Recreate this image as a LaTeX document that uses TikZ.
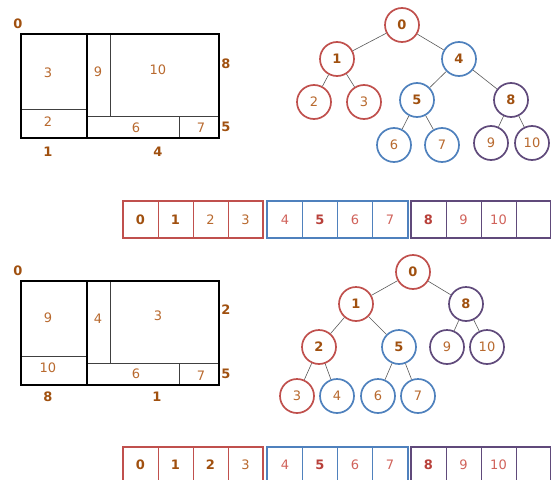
\documentclass[tikz,border=0pt]{standalone}
\usepackage{fontspec}
\setmainfont{DejaVu Sans}
\usepackage{tikz}
\usetikzlibrary{positioning}

\definecolor{hred}{HTML}{C0504D}
\definecolor{hblue}{HTML}{4F81BD}
\definecolor{hpurple}{HTML}{604A7B}
\definecolor{txtbrown}{HTML}{B8692E}
\definecolor{txtdark}{HTML}{A0500F}
\definecolor{txtred}{HTML}{D0625A}
\definecolor{txtdred}{HTML}{B8403A}

\tikzset{
  num/.style={text=txtbrown, font=\fontsize{13}{15}\selectfont},
  bnum/.style={text=txtdark, font=\fontsize{13}{15}\selectfont\bfseries},
  rnum/.style={text=txtred, font=\fontsize{13}{15}\selectfont},
  brnum/.style={text=txtdred, font=\fontsize{13}{15}\selectfont\bfseries},
  vert/.style={circle, draw=#1, line width=1.7pt, minimum size=34pt, inner sep=0pt, fill=white},
  cell/.style={draw=#1, line width=0.8pt, minimum width=35pt, minimum height=36pt, inner sep=0pt},
  link/.style={draw=black!65, line width=0.6pt},
}

\begin{document}
\begin{tikzpicture}[x=1pt, y=-1pt]
\useasboundingbox (0,0) rectangle (551,479);

% the two split planes
\foreach \dy in {0,247} {
  \begin{scope}[shift={(0,\dy)}]
    \draw[black!75, line width=0.8pt] (21,109) -- (87,109);
    \draw[black!75, line width=0.8pt] (110,34) -- (110,116);
    \draw[black!75, line width=0.8pt] (87,116) -- (219,116);
    \draw[black!75, line width=0.8pt] (179,116) -- (179,138);
    \draw[line width=1.8pt] (21,34) rectangle (219,138);
    \draw[line width=1.8pt] (87,34) -- (87,138);
  \end{scope}
}

% labels, top plan
\node[bnum] (p0) at (18,24) {0};
\node[num] (p3) at (48,73) {3};
\node[num] (p2) at (48,122) {2};
\node[num] (p9) at (98,72) {9};
\node[num] (p10) at (158,70) {10};
\node[num] (p6) at (136,128) {6};
\node[num] (p7) at (201,128) {7};
\node[bnum] (p8) at (226,64) {8};
\node[bnum] (p5) at (226,127) {5};
\node[bnum] (p1) at (48,152) {1};
\node[bnum] (p4) at (158,152) {4};

% labels, bottom plan
\node[bnum] (q0) at (18,271) {0};
\node[num] (q9) at (48,318) {9};
\node[num] (q10) at (48,368) {10};
\node[num] (q4) at (98,319) {4};
\node[num] (q3) at (158,316) {3};
\node[num] (q6) at (136,374) {6};
\node[num] (q7) at (201,376) {7};
\node[bnum] (q2) at (226,310) {2};
\node[bnum] (q5) at (226,374) {5};
\node[bnum] (q8) at (48,397) {8};
\node[bnum] (q1) at (157,397) {1};

% top tree
\node[vert=hred, bnum] (a0) at (402,25) {0};
\node[vert=hred, bnum] (a1) at (337,59) {1};
\node[vert=hblue, bnum] (a4) at (459,59) {4};
\node[vert=hred, num] (a2) at (314,102) {2};
\node[vert=hred, num] (a3) at (364,102) {3};
\node[vert=hblue, bnum] (a5) at (417,100) {5};
\node[vert=hpurple, bnum] (a8) at (511,100) {8};
\node[vert=hblue, num] (a6) at (394,145) {6};
\node[vert=hblue, num] (a7) at (442,145) {7};
\node[vert=hpurple, num] (a9) at (491,143) {9};
\node[vert=hpurple, num] (a10) at (532,143) {10};
\foreach \u/\v in {a0/a1, a0/a4, a1/a2, a1/a3, a4/a5, a4/a8, a5/a6, a5/a7, a8/a9, a8/a10}
  \draw[link] (\u) -- (\v);

% bottom tree
\node[vert=hred, bnum] (b0) at (413,272) {0};
\node[vert=hred, bnum] (b1) at (356,304) {1};
\node[vert=hpurple, bnum] (b8) at (466,304) {8};
\node[vert=hred, bnum] (b2) at (319,347) {2};
\node[vert=hblue, bnum] (b5) at (399,347) {5};
\node[vert=hpurple, num] (b9) at (447,347) {9};
\node[vert=hpurple, num] (b10) at (487,347) {10};
\node[vert=hred, num] (b3) at (297,396) {3};
\node[vert=hblue, num] (b4) at (337,396) {4};
\node[vert=hblue, num] (b6) at (378,396) {6};
\node[vert=hblue, num] (b7) at (418,396) {7};
\foreach \u/\v in {b0/b1, b0/b8, b1/b2, b1/b5, b2/b3, b2/b4, b5/b6, b5/b7, b8/b9, b8/b10}
  \draw[link] (\u) -- (\v);

% top array
\node[cell=hred, bnum] (r0) at (140.5,219.5) {0};
\node[cell=hred, bnum] (r1) at (175.5,219.5) {1};
\node[cell=hred, num] (r2) at (210.5,219.5) {2};
\node[cell=hred, num] (r3) at (245.5,219.5) {3};
\node[cell=hblue, rnum] (r4) at (285,219.5) {4};
\node[cell=hblue, brnum] (r5) at (320,219.5) {5};
\node[cell=hblue, rnum] (r6) at (355,219.5) {6};
\node[cell=hblue, rnum] (r7) at (390,219.5) {7};
\node[cell=hpurple, brnum] (r8) at (428.5,219.5) {8};
\node[cell=hpurple, rnum] (r9) at (463.5,219.5) {9};
\node[cell=hpurple, rnum] (r10) at (498.5,219.5) {10};
\node[cell=hpurple] (r11) at (533.5,219.5) {};
\draw[hred, line width=2pt] (r0.north west) rectangle (r3.south east);
\draw[hblue, line width=2pt] (r4.north west) rectangle (r7.south east);
\draw[hpurple, line width=2pt] (r8.north west) rectangle (r11.south east);

% bottom array
\node[cell=hred, bnum] (s0) at (140.5,465) {0};
\node[cell=hred, bnum] (s1) at (175.5,465) {1};
\node[cell=hred, bnum] (s2) at (210.5,465) {2};
\node[cell=hred, num] (s3) at (245.5,465) {3};
\node[cell=hblue, rnum] (s4) at (285,465) {4};
\node[cell=hblue, brnum] (s5) at (320,465) {5};
\node[cell=hblue, rnum] (s6) at (355,465) {6};
\node[cell=hblue, rnum] (s7) at (390,465) {7};
\node[cell=hpurple, brnum] (s8) at (428.5,465) {8};
\node[cell=hpurple, rnum] (s9) at (463.5,465) {9};
\node[cell=hpurple, rnum] (s10) at (498.5,465) {10};
\node[cell=hpurple] (s11) at (533.5,465) {};
\draw[hred, line width=2pt] (s0.north west) rectangle (s3.south east);
\draw[hblue, line width=2pt] (s4.north west) rectangle (s7.south east);
\draw[hpurple, line width=2pt] (s8.north west) rectangle (s11.south east);
\end{tikzpicture}
\end{document}
